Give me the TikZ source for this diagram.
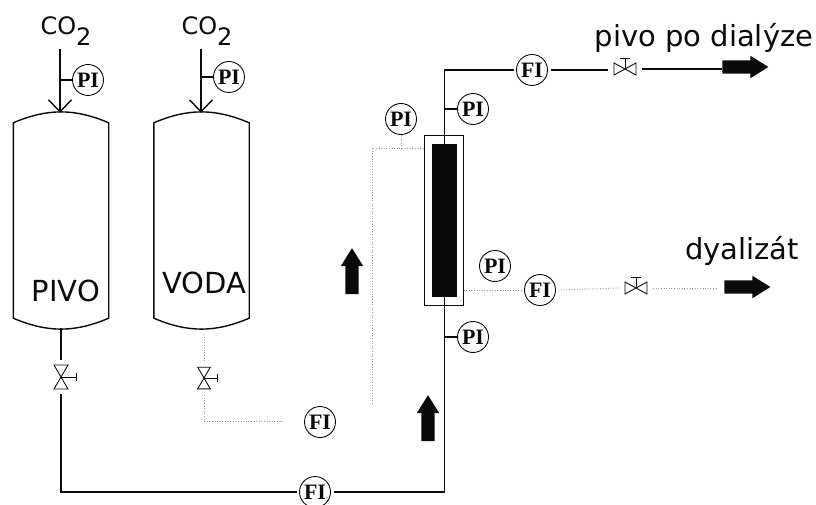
\documentclass[tikz,border=0pt]{standalone}
\usepackage{fontspec}
\setmainfont{DejaVu Sans}
\newfontfamily\gaugefont{Liberation Serif}[Scale=1]
\usetikzlibrary{arrows.meta,calc,shapes.arrows}
\definecolor{ink}{HTML}{0A0A0A}
\definecolor{faint}{HTML}{9A9A9A}
\tikzset{
  >=Latex,
  every node/.style={text=ink},
  pipe/.style={draw=ink,line width=1.4pt},
  shellpipe/.style={draw=faint,line width=0.8pt,dash pattern=on 1pt off 1.6pt},
  vessel/.style={minimum width=95pt,minimum height=215pt,inner sep=0pt},
  gauge/.style={circle,draw=ink,line width=0.9pt,minimum size=31pt,inner sep=0pt,font=\gaugefont\fontsize{22}{22}\selectfont\bfseries},
  flowgauge/.style={gauge,outer sep=3pt},
  valvebox/.style={minimum width=34pt,minimum height=34pt,inner sep=0pt},
  valveline/.style={draw=ink,line width=0.9pt},
  bigarrow/.style={single arrow,fill=ink,draw=none,text width=0pt,text height=13pt,text depth=0pt,minimum height=46pt,inner sep=0pt,single arrow head extend=4.5pt,single arrow tip angle=64},
  lab/.style={font=\fontsize{29}{29}\selectfont,inner sep=0pt},
  gaslab/.style={font=\fontsize{24}{24}\selectfont,inner sep=0pt},
  valveh/.pic={
    \draw[valveline] (-11,-6) -- (11,6) -- (11,-6) -- (-11,6) -- cycle;
    \draw[valveline] (0,0) -- (0,-11) (-5,-11) -- (5,-11);
  },
  valvev/.pic={
    \draw[valveline] (-7,-12) -- (7,12) -- (-7,12) -- (7,-12) -- cycle;
    \draw[valveline] (0,0) -- (15,0) (15,-4) -- (15,4);
  }
}
\begin{document}
\begin{tikzpicture}[x=1pt,y=-1pt]
  \useasboundingbox (0,0) rectangle (816,505);

  \node[vessel] (pivotank) at (61,220.5) {};
  \node[vessel] (vodatank) at (201.5,220.5) {};
  \foreach \n in {pivotank,vodatank} {\draw[pipe] ($(\n.north west)+(0,10)$) to[bend left=23] ($(\n.north east)+(0,10)$) -- ($(\n.south east)+(0,-10)$) to[bend left=23] ($(\n.south west)+(0,-10)$) -- cycle;}
  \node[lab] (pivotext) at (66,291) {PIVO};
  \node[lab] (vodatext) at (204,283) {VODA};

  \node[gaslab,anchor=base] (co2a) at (66,35) {CO\raisebox{-11pt}{2}};
  \node[gaslab,anchor=base] (co2b) at (207,35) {CO\raisebox{-11pt}{2}};
  \coordinate (gasa) at (60,49);
  \coordinate (gasb) at (201,49);
  \draw[pipe,-{Straight Barb[length=12pt,width=23pt]}] (gasa) -- (gasa |- pivotank.north);
  \draw[pipe,-{Straight Barb[length=12pt,width=23pt]}] (gasb) -- (gasb |- vodatank.north);
  \node[gauge] (pia) at (88,80) {PI};
  \node[gauge] (pib) at (229,77) {PI};
  \draw[pipe] (pia.west) -- (pia.west -| gasa);
  \draw[pipe] (pib.west) -- (pib.west -| gasb);

  \node[draw=ink,line width=1pt,minimum width=39pt,minimum height=170pt,inner sep=0pt] (column) at (443.5,220.5) {};
  \node[fill=ink,minimum width=25pt,minimum height=153pt,inner sep=0pt] (core) at (444.5,220.5) {};

  \node[valvebox] (valvepivo) at (61,377) {};
  \node[valvebox] (valvevoda) at (204,378) {};
  \node[valvebox] (valveout) at (625,69) {};
  \node[valvebox] (valvedial) at (636,288) {};
  \pic at (valvepivo) {valvev};
  \pic[scale=0.9] at (valvevoda) {valvev};
  \pic at (valveout) {valveh};
  \pic at (valvedial) {valveh};

  \node[flowgauge] (fipivo) at (315,492) {FI};
  \node[flowgauge] (fivoda) at (320,422) {FI};
  \node[flowgauge] (fiout) at (532,70) {FI};
  \node[flowgauge] (fidial) at (540,290) {FI};
  \node[gauge] (pitop) at (473,109) {PI};
  \node[gauge] (pilow) at (473,337) {PI};
  \node[gauge] (pishell) at (401,119) {PI};
  \node[gauge] (pidial) at (495,266) {PI};

  \draw[pipe] (pivotank.south) -- (valvepivo.north);
  \draw[pipe] (valvepivo.south) |- (fipivo.west);
  \draw[pipe] (fipivo.east) -| (core.south);
  \draw[pipe] (core.north) |- (fiout.west);
  \draw[pipe] (fiout.east) -- (fiout.east -| valveout.west);
  \draw[pipe] (pitop.west) -- (pitop.west -| core);
  \draw[pipe] (pilow.west) -- (pilow.west -| core);

  \coordinate (endout) at (722,69);
  \coordinate (enddial) at (717,288);
  \coordinate (shellcorner) at (372,148);
  \coordinate (shellfoot) at (372,404);
  \coordinate (vodaend) at (283,421);
  \draw[pipe] (valveout.east) -- (endout);
  \draw[shellpipe] (valvevoda.south) |- (vodaend);
  \draw[shellpipe] ($(vodatank.south)+(2.5,6)$) -- (valvevoda.north);
  \draw[shellpipe] (shellfoot) -- (shellcorner) -- (shellcorner -| column.west);
  \draw[shellpipe] (pishell.south) -- (pishell.south |- shellcorner);
  \draw[shellpipe] (column.east |- fidial) -- (fidial.west);
  \draw[shellpipe] (fidial.east) -- (valvedial.west);
  \draw[shellpipe] (valvedial.east) -- (enddial);

  \node[bigarrow] (flowout) at (740,67) {};
  \node[bigarrow] (flowdial) at (742,287) {};
  \node[bigarrow,rotate=90] (flowshell) at (352,276.5) {};
  \node[bigarrow,rotate=90] (flowpivo) at (428,423.5) {};

  \node[lab,anchor=base] (labelout) at (704,47) {pivo po dialýze};
  \node[lab,anchor=base] (labeldial) at (742,259) {dyalizát};
\end{tikzpicture}
\end{document}
